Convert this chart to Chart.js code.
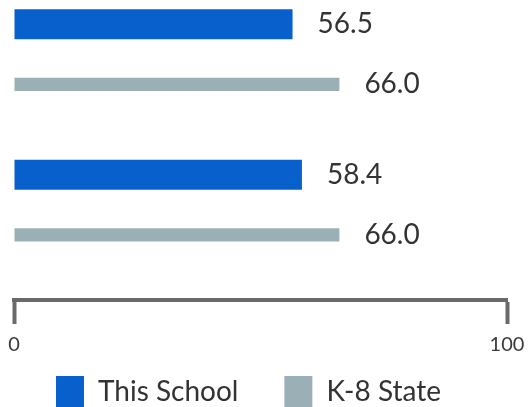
<!DOCTYPE html>
<html>
<head>
<meta charset="utf-8">
<script src="https://cdn.jsdelivr.net/npm/chart.js@4"></script>
<style>
  html, body { margin: 0; padding: 0; background: #fff; overflow: hidden; }
  #myChart { margin-left: -10px; }
</style>
</head>
<body>
<canvas id="myChart" width="540" height="418"></canvas>
<script>
// two rows of bars, school vs state average
const rows = ['Row 1', 'Row 2'];
const schoolValues = [56.5, 58.4];
const stateValues = [66.0, 66.0];
const seriesNames = ['This School', 'K-8 State'];
const xTicks = [0, 100];

const blue = 'rgb(8, 96, 204)';
const grey = 'rgb(154, 175, 182)';

Chart.defaults.font.family = 'Lato';

// value text to the right of every bar
const valueLabels = {
  id: 'valueLabels',
  afterDatasetsDraw(chart) {
    const ctx = chart.ctx;
    ctx.save();
    ctx.font = '28px Lato';
    ctx.fillStyle = '#333';
    ctx.textBaseline = 'middle';
    ctx.textAlign = 'left';
    chart.data.datasets.forEach((ds, i) => {
      const meta = chart.getDatasetMeta(i);
      meta.data.forEach((bar, j) => {
        ctx.fillText(ds.data[j].x.toFixed(1), bar.x + 25, bar.y);
      });
    });
    ctx.restore();
  }
};

const data = {
  datasets: [
    {
      label: seriesNames[0],
      backgroundColor: blue,
      data: schoolValues.map((v, i) => ({ x: v, y: i })),
      barPercentage: 0.5,
    },
    {
      label: seriesNames[1],
      backgroundColor: grey,
      data: stateValues.map((v, i) => ({ x: v, y: i })),
      barPercentage: 0.22,
    },
  ],
};

const config = {
  type: 'bar',
  data: data,
  plugins: [valueLabels],
  options: {
    indexAxis: 'y',
    responsive: false,
    animation: false,
    layout: { padding: { left: 0, right: 23, top: 0, bottom: 0 } },
    scales: {
      y: {
        type: 'linear',
        reverse: true,
        offset: false,
        min: -0.361,
        max: 1.632,
        afterBuildTicks: (scale) => { scale.ticks = rows.map((r, i) => ({ value: i })); },
        afterFit: (scale) => { scale.width = 24; },
        ticks: { display: false },
        grid: { display: false },
        border: { display: false },
      },
      x: {
        type: 'linear',
        min: 0,
        max: 100,
        afterBuildTicks: (scale) => { scale.ticks = xTicks.map((v) => ({ value: v })); },
        afterFit: (scale) => { scale.height = 30; },
        ticks: {
          color: '#3a3a3a',
          font: { size: 20 },
          mirror: true,
          padding: -57,
          maxRotation: 0,
        },
        grid: {
          drawOnChartArea: false,
          drawTicks: true,
          tickLength: 24,
          tickWidth: 4,
          tickColor: '#6a6a6a',
        },
        border: { display: true, width: 4, color: '#6a6a6a' },
      },
    },
    plugins: {
      tooltip: { enabled: false },
      legend: {
        position: 'bottom',
        labels: {
          boxWidth: 28,
          boxHeight: 32,
          padding: 46,
          color: '#333',
          font: { size: 28 },
        },
      },
    },
  },
};

const myChart = new Chart(document.getElementById('myChart'), config);
</script>
</body>
</html>
